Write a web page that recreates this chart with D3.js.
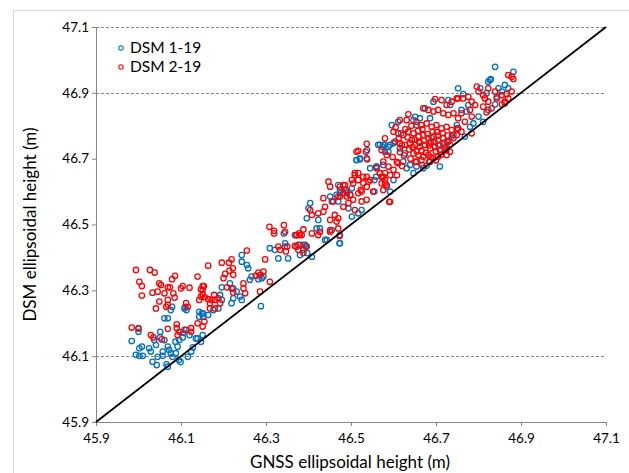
<!DOCTYPE html>
<html>
<head>
<meta charset="utf-8">
<script src="https://cdn.jsdelivr.net/npm/d3@7"></script>
<style>
  body { margin: 0; background: #fff; }
  svg { font-family: Lato, "Open Sans", sans-serif; }
</style>
</head>
<body>
<div id="chart"></div>
<script>
// axis ticks and the gridlines that are actually drawn
const ticks = [45.9, 46.1, 46.3, 46.5, 46.7, 46.9, 47.1];
const gridTicks = [46.1, 46.9, 47.1];

// DSM 1-19 : [GNSS height, DSM height]
const dsm1 = [
  [46.000,46.185],[46.000,46.174],[45.984,46.146],[46.002,46.124],[46.008,46.129],
  [45.994,46.104],[46.002,46.101],[46.010,46.101],[46.025,46.124],[46.029,46.114],
  [46.037,46.149],[46.041,46.134],[46.033,46.083],[46.043,46.073],[46.045,46.098],
  [46.057,46.101],[46.057,46.114],[46.051,46.174],[46.051,46.157],[46.061,46.149],
  [46.069,46.129],[46.072,46.119],[46.076,46.109],[46.080,46.098],[46.088,46.109],
  [46.092,46.129],[46.087,46.144],[46.096,46.149],[46.108,46.180],[46.105,46.171],
  [46.104,46.157],[46.061,46.215],[46.069,46.215],[46.076,46.240],[46.079,46.250],
  [46.108,46.245],[46.113,46.240],[46.110,46.250],[46.120,46.164],[46.135,46.154],
  [46.128,46.127],[46.124,46.114],[46.116,46.098],[46.143,46.235],[46.149,46.230],
  [46.152,46.220],[46.143,46.220],[46.139,46.154],[46.151,46.164],[46.147,46.144],
  [46.069,46.068],[46.095,46.088],[46.099,46.082],[46.066,46.075],
  [46.342,46.473],[46.345,46.443],[46.345,46.433],[46.309,46.428],[46.321,46.423],
  [46.329,46.397],[46.352,46.397],[46.376,46.438],[46.388,46.438],[46.396,46.433],
  [46.397,46.413],[46.243,46.407],[46.243,46.387],[46.255,46.377],[46.258,46.367],
  [46.266,46.342],[46.262,46.332],[46.282,46.334],[46.290,46.337],[46.294,46.342],
  [46.215,46.321],[46.223,46.306],[46.231,46.296],[46.239,46.281],[46.243,46.271],
  [46.223,46.276],[46.219,46.261],[46.196,46.309],[46.192,46.286],[46.196,46.271],
  [46.288,46.252],[46.176,46.240],[46.188,46.245],[46.152,46.230],[46.164,46.225],
  [46.564,46.742],[46.574,46.736],[46.580,46.721],[46.538,46.726],[46.513,46.696],
  [46.521,46.698],[46.560,46.676],[46.576,46.681],[46.545,46.671],[46.559,46.645],
  [46.470,46.620],[46.474,46.605],[46.490,46.600],[46.502,46.610],[46.451,46.585],
  [46.455,46.570],[46.470,46.570],[46.494,46.549],[46.502,46.524],[46.517,46.534],
  [46.525,46.544],[46.404,46.565],[46.400,46.549],[46.396,46.519],[46.423,46.514],
  [46.419,46.488],[46.427,46.488],[46.455,46.483],[46.443,46.453],[46.474,46.468],
  [46.474,46.443],[46.439,46.453],[46.368,46.468],[46.392,46.438],[46.380,46.407],
  [46.388,46.423],[46.408,46.402],[46.473,46.443],
  [46.596,46.802],[46.611,46.812],[46.674,46.853],[46.694,46.873],[46.729,46.878],
  [46.733,46.863],[46.662,46.823],[46.647,46.817],[46.686,46.823],[46.580,46.742],
  [46.592,46.742],[46.615,46.731],[46.627,46.716],[46.623,46.691],[46.639,46.681],
  [46.631,46.671],[46.654,46.676],[46.647,46.656],[46.670,46.671],[46.686,46.691],
  [46.600,46.635],[46.584,46.615],[46.592,46.600],[46.725,46.752],[46.741,46.772],
  [46.749,46.802],[46.678,46.679],[46.705,46.742],[46.690,46.762],[46.618,46.777],
  [46.576,46.742],[46.588,46.721],[46.600,46.747],[46.654,46.802],[46.651,46.827],
  [46.709,46.676],[46.737,46.767],[46.725,46.736],
  [46.513,46.696],[46.521,46.701],[46.537,46.701],[46.568,46.742],[46.588,46.736],
  [46.555,46.635],[46.560,46.676],[46.474,46.595],[46.490,46.595],[46.498,46.590],
  [46.466,46.590],[46.555,46.600],
  [46.839,46.979],[46.882,46.964],[46.827,46.939],[46.823,46.934],[46.829,46.942],
  [46.862,46.924],[46.870,46.914],[46.764,46.896],[46.752,46.914],[46.804,46.914],
  [46.819,46.899],[46.847,46.914],[46.855,46.904],[46.843,46.888],[46.839,46.865],
  [46.823,46.848],[46.800,46.828],[46.788,46.807],[46.811,46.812],[46.776,46.863],
  [46.760,46.848],[46.772,46.843],[46.768,46.767],[46.780,46.797]
];

// DSM 2-19 : [GNSS height, DSM height]
const dsm2 = [
  [45.994,46.362],[46.027,46.362],[46.038,46.354],[46.002,46.326],[46.008,46.313],
  [46.008,46.284],[46.033,46.293],[46.045,46.296],[46.049,46.321],[46.053,46.316],
  [46.041,46.245],[46.049,46.266],[46.061,46.291],[46.069,46.309],[46.074,46.309],
  [46.079,46.334],[46.086,46.344],[46.069,46.271],[46.069,46.256],[46.065,46.250],
  [46.082,46.291],[46.085,46.278],[46.100,46.306],[46.120,46.308],[46.104,46.313],
  [46.112,46.261],[46.116,46.250],[46.139,46.342],[46.151,46.313],[46.147,46.303],
  [46.147,46.281],[46.143,46.271],[45.984,46.187],[46.000,46.184],[46.029,46.164],
  [46.035,46.157],[46.055,46.151],[46.069,46.183],[46.090,46.197],[46.090,46.185],
  [46.092,46.164],[46.096,46.174],[46.112,46.180],[46.124,46.185],[46.124,46.174],
  [46.139,46.200],[46.151,46.190],[46.155,46.205],
  [46.308,46.493],[46.319,46.481],[46.319,46.473],[46.342,46.498],[46.345,46.478],
  [46.372,46.468],[46.378,46.473],[46.384,46.468],[46.329,46.433],[46.333,46.423],
  [46.350,46.433],[46.347,46.418],[46.372,46.433],[46.380,46.438],[46.394,46.433],
  [46.255,46.421],[46.219,46.394],[46.213,46.384],[46.196,46.384],[46.164,46.375],
  [46.222,46.367],[46.214,46.360],[46.223,46.347],[46.204,46.350],[46.200,46.337],
  [46.298,46.394],[46.282,46.354],[46.287,46.347],[46.294,46.357],[46.276,46.344],
  [46.309,46.326],[46.286,46.296],[46.247,46.321],[46.247,46.306],[46.251,46.291],
  [46.219,46.306],[46.223,46.293],[46.208,46.309],[46.154,46.313],[46.151,46.301],
  [46.151,46.288],[46.156,46.279],[46.164,46.273],[46.172,46.271],[46.180,46.271],
  [46.188,46.276],[46.178,46.286],[46.168,46.261],[46.168,46.245],[46.180,46.245],
  [46.192,46.261],
  [46.537,46.745],[46.535,46.721],[46.517,46.724],[46.538,46.698],[46.447,46.630],
  [46.451,46.615],[46.482,46.620],[46.488,46.605],[46.505,46.625],[46.509,46.650],
  [46.517,46.656],[46.529,46.625],[46.523,46.605],[46.552,46.600],[46.537,46.645],
  [46.545,46.635],[46.568,46.656],[46.572,46.645],[46.580,46.635],[46.584,46.620],
  [46.474,46.585],[46.490,46.585],[46.498,46.590],[46.505,46.575],[46.517,46.595],
  [46.525,46.570],[46.537,46.575],[46.494,46.565],[46.482,46.554],[46.509,46.544],
  [46.435,46.580],[46.439,46.554],[46.435,46.539],[46.423,46.534],[46.458,46.570],
  [46.462,46.529],[46.451,46.514],[46.466,46.509],[46.470,46.519],[46.404,46.544],
  [46.408,46.529],[46.388,46.485],[46.372,46.468],[46.380,46.468],[46.408,46.473],
  [46.427,46.478],[46.451,46.483],[46.470,46.488],[46.368,46.435],[46.388,46.413],
  [46.376,46.423],[46.423,46.468],[46.451,46.478],[46.473,46.465],
  [46.513,46.721],[46.509,46.656],[46.502,46.635],[46.517,46.635],[46.529,46.645],
  [46.541,46.630],[46.537,46.615],[46.525,46.600],[46.486,46.620],[46.474,46.615],
  [46.482,46.595],[46.470,46.585],[46.560,46.671],[46.568,46.656],[46.576,46.645],
  [46.580,46.625],[46.576,46.605],
  [46.698,46.881],[46.713,46.878],[46.725,46.863],[46.737,46.873],[46.749,46.883],
  [46.670,46.853],[46.682,46.848],[46.694,46.843],[46.705,46.848],[46.717,46.838],
  [46.729,46.833],[46.741,46.838],[46.635,46.835],[46.631,46.817],[46.615,46.817],
  [46.654,46.812],[46.666,46.802],[46.678,46.807],[46.690,46.797],[46.701,46.802],
  [46.713,46.792],[46.725,46.797],[46.737,46.787],[46.749,46.792],[46.600,46.782],
  [46.611,46.777],[46.623,46.772],[46.635,46.782],[46.647,46.777],[46.659,46.767],
  [46.670,46.772],[46.682,46.762],[46.694,46.767],[46.705,46.757],[46.717,46.762],
  [46.729,46.752],[46.741,46.762],[46.604,46.752],[46.615,46.747],[46.627,46.742],
  [46.639,46.747],[46.651,46.742],[46.662,46.736],[46.674,46.742],[46.686,46.731],
  [46.698,46.736],[46.709,46.726],[46.721,46.731],[46.733,46.721],[46.647,46.716],
  [46.659,46.711],[46.670,46.706],[46.682,46.711],[46.694,46.701],[46.705,46.706],
  [46.580,46.762],[46.572,46.726],[46.584,46.711],[46.576,46.691],[46.588,46.676],
  [46.580,46.656],[46.592,46.650],[46.600,46.666],[46.611,46.686],[46.608,46.650],
  [46.572,46.625],[46.654,46.691],[46.666,46.696],[46.725,46.711],[46.592,46.569],
  [46.590,46.569],[46.643,46.757],[46.660,46.752],[46.688,46.750],[46.702,46.781],
  [46.605,46.795],[46.612,46.760],[46.620,46.740],[46.628,46.790],[46.633,46.765],
  [46.637,46.728],[46.642,46.800],[46.645,46.735],[46.650,46.758],[46.655,46.722],
  [46.658,46.785],[46.662,46.748],[46.666,46.725],[46.668,46.790],[46.672,46.755],
  [46.676,46.718],[46.680,46.775],[46.684,46.740],[46.688,46.705],[46.692,46.782],
  [46.696,46.752],[46.700,46.722],[46.704,46.770],[46.708,46.740],[46.712,46.712],
  [46.716,46.778],[46.720,46.748],[46.724,46.725],[46.728,46.770],[46.733,46.742],
  [46.640,46.700],[46.652,46.690],[46.668,46.680],[46.684,46.690],[46.700,46.695],
  [46.625,46.710],[46.615,46.720],[46.598,46.705],[46.608,46.690],[46.620,46.678],
  [46.878,46.949],[46.882,46.942],[46.870,46.954],[46.796,46.919],[46.800,46.904],
  [46.811,46.893],[46.815,46.883],[46.823,46.914],[46.839,46.904],[46.843,46.883],
  [46.855,46.893],[46.866,46.896],[46.870,46.883],[46.878,46.904],[46.862,46.873],
  [46.823,46.873],[46.811,46.858],[46.831,46.853],[46.855,46.865],[46.862,46.868],
  [46.752,46.883],[46.764,46.883],[46.776,46.888],[46.784,46.873],[46.792,46.863],
  [46.780,46.848],[46.760,46.838],[46.752,46.823],[46.768,46.812],[46.784,46.828],
  [46.819,46.841],[46.752,46.792],[46.760,46.782],[46.749,46.772],[46.784,46.777]
];

const W = 629, H = 473;
const margin = {top: 27, right: 23, bottom: 51, left: 96};
const width = W - margin.left - margin.right;
const height = H - margin.top - margin.bottom;
const axisColor = "#868686";

const svg = d3.select("#chart").append("svg")
    .attr("width", W)
    .attr("height", H);

// chart frame
svg.append("rect")
    .attr("x", 13.5).attr("y", 10.5)
    .attr("width", 630).attr("height", 480)
    .attr("fill", "none")
    .attr("stroke", "#d9d9d9");

const g = svg.append("g")
    .attr("transform", `translate(${margin.left}, ${margin.top})`);

const x = d3.scaleLinear().domain([45.9, 47.1]).range([0, width]);
const y = d3.scaleLinear().domain([45.9, 47.1]).range([height, 0]);

// dashed gridlines
g.append("g").selectAll("line").data(gridTicks).enter().append("line")
    .attr("x1", 0).attr("x2", width)
    .attr("y1", d => Math.round(y(d)) + 0.5)
    .attr("y2", d => Math.round(y(d)) + 0.5)
    .attr("stroke", axisColor)
    .attr("stroke-dasharray", "3,2");

// axes
const xAxis = g.append("g")
    .attr("transform", `translate(0, ${height})`)
    .call(d3.axisBottom(x).tickValues(ticks).tickFormat(d3.format(".1f"))
        .tickSize(4).tickPadding(7));
const yAxis = g.append("g")
    .call(d3.axisLeft(y).tickValues(ticks).tickFormat(d3.format(".1f"))
        .tickSize(4).tickPadding(3));

[xAxis, yAxis].forEach(a => {
    a.select(".domain").attr("stroke", axisColor);
    a.selectAll(".tick line").attr("stroke", axisColor);
    a.selectAll(".tick text")
        .attr("fill", "#000")
        .style("font-size", "13.5px")
        .style("font-family", "Lato, sans-serif");
});

// points
const series = [
    {name: "DSM 1-19", data: dsm1, color: "#0070C0"},
    {name: "DSM 2-19", data: dsm2, color: "#FF0000"}
];

series.forEach(s => {
    g.append("g").selectAll("circle").data(s.data).enter().append("circle")
        .attr("cx", d => x(d[0]))
        .attr("cy", d => y(d[1]))
        .attr("r", 2.7)
        .attr("fill", "none")
        .attr("stroke", s.color)
        .attr("stroke-width", 1.3);
});

// 1:1 line
g.append("line")
    .attr("x1", x(45.9)).attr("y1", y(45.9))
    .attr("x2", x(47.1)).attr("y2", y(47.1))
    .attr("stroke", "#000")
    .attr("stroke-width", 1.8);

// legend
const legend = g.append("g").attr("transform", "translate(25, 21)");
series.forEach((s, i) => {
    legend.append("circle")
        .attr("cx", 0).attr("cy", i * 19)
        .attr("r", 2.2)
        .attr("fill", "none")
        .attr("stroke", s.color)
        .attr("stroke-width", 1.1);
    legend.append("text")
        .attr("x", 9).attr("y", i * 19)
        .attr("dy", "0.35em")
        .style("font-size", "15.5px")
        .text(s.name);
});

// axis titles
svg.append("text")
    .attr("x", margin.left + width / 2 - 1)
    .attr("y", 468)
    .attr("text-anchor", "middle")
    .style("font-size", "17px")
    .text("GNSS ellipsoidal height (m)");

svg.append("text")
    .attr("transform", `translate(36, ${margin.top + height / 2}) rotate(-90)`)
    .attr("text-anchor", "middle")
    .style("font-size", "17px")
    .text("DSM ellipsoidal height (m)");
</script>
</body>
</html>
